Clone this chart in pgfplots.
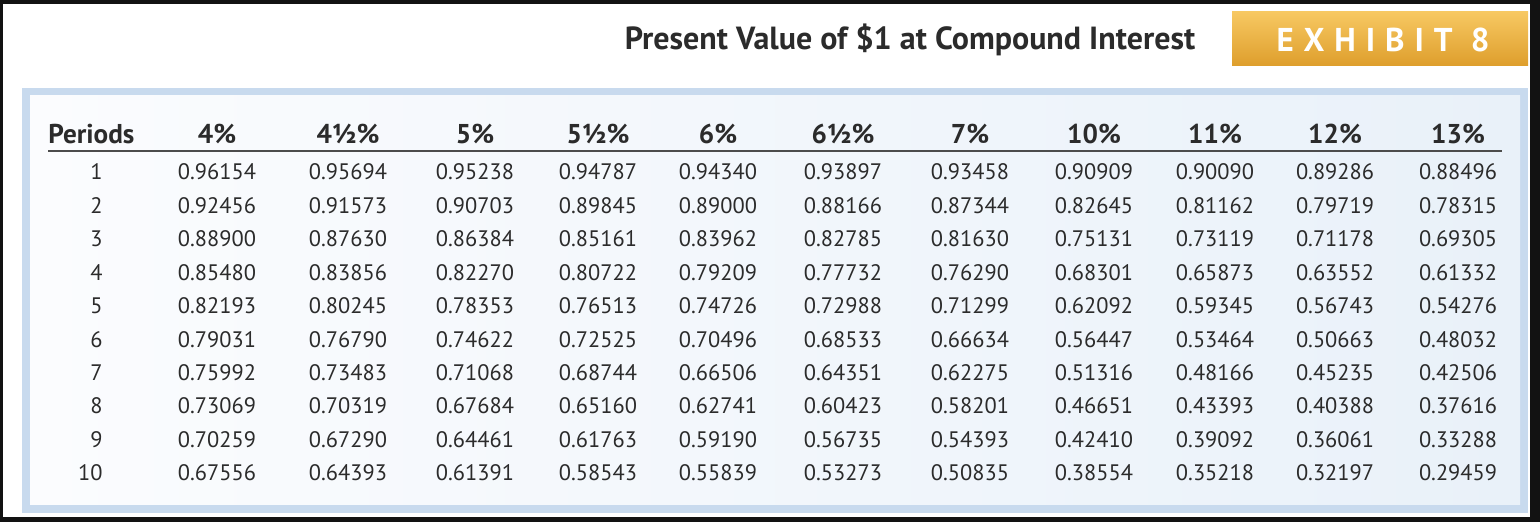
\documentclass[border=0pt]{standalone}
\usepackage{pgfplots}
\usepackage{pgfplotstable}
\pgfplotsset{compat=1.18}
\usepackage{fontspec}
\setmainfont{PT Sans}
\newfontfamily\exhfont[LetterSpace=30]{PT Sans}
\usetikzlibrary{shadings}

\definecolor{txt}{HTML}{2B2B2B}
\definecolor{frameblue}{HTML}{C8DAEE}
\definecolor{paneltop}{HTML}{FBFCFE}
\definecolor{panelright}{HTML}{E9F1F9}
\definecolor{orangetop}{HTML}{F7C862}
\definecolor{orangebot}{HTML}{DE9E2C}

% present value factors, periods 1-10
\pgfplotstableread{
n r4 r45 r5 r55 r6 r65 r7 r10 r11 r12 r13
1 0.96154 0.95694 0.95238 0.94787 0.94340 0.93897 0.93458 0.90909 0.90090 0.89286 0.88496
2 0.92456 0.91573 0.90703 0.89845 0.89000 0.88166 0.87344 0.82645 0.81162 0.79719 0.78315
3 0.88900 0.87630 0.86384 0.85161 0.83962 0.82785 0.81630 0.75131 0.73119 0.71178 0.69305
4 0.85480 0.83856 0.82270 0.80722 0.79209 0.77732 0.76290 0.68301 0.65873 0.63552 0.61332
5 0.82193 0.80245 0.78353 0.76513 0.74726 0.72988 0.71299 0.62092 0.59345 0.56743 0.54276
6 0.79031 0.76790 0.74622 0.72525 0.70496 0.68533 0.66634 0.56447 0.53464 0.50663 0.48032
7 0.75992 0.73483 0.71068 0.68744 0.66506 0.64351 0.62275 0.51316 0.48166 0.45235 0.42506
8 0.73069 0.70319 0.67684 0.65160 0.62741 0.60423 0.58201 0.46651 0.43393 0.40388 0.37616
9 0.70259 0.67290 0.64461 0.61763 0.59190 0.56735 0.54393 0.42410 0.39092 0.36061 0.33288
10 0.67556 0.64393 0.61391 0.58543 0.55839 0.53273 0.50835 0.38554 0.35218 0.32197 0.29459
}\pvtable

\begin{document}
\begin{tikzpicture}
\begin{axis}[
    scale only axis,
    width=770pt, height=261pt,
    xmin=0, xmax=1540, ymin=0, ymax=522,
    y dir=reverse,
    axis lines=none,
    clip=false,
    every node near coord/.append style={anchor=center, inner sep=0pt,
        font=\fontsize{11.2pt}{13pt}\selectfont, text=txt},
    cell/.style={draw=none, mark=none, nodes near coords, point meta=explicit symbolic},
]
% frame and panel
\fill[black!93] (axis cs:0,0) rectangle (axis cs:1540,522);
\fill[white] (axis cs:3,4) rectangle (axis cs:1530,517);
\fill[frameblue] (axis cs:22,88) rectangle (axis cs:1528,513);
\shade[left color=paneltop, right color=panelright] (axis cs:30,96) rectangle (axis cs:1520,505);
% exhibit tab
\shade[top color=orangetop, bottom color=orangebot] (axis cs:1232,12) rectangle (axis cs:1528,66);
\node[text=white, font=\exhfont\bfseries\fontsize{16.5pt}{18pt}\selectfont] at (axis cs:1383,40) {EXHIBIT 8};
\node[text=txt, font=\bfseries\fontsize{16pt}{18pt}\selectfont] at (axis cs:910,40) {Present Value of \$1 at Compound Interest};

% header row
\draw[black!70, line width=1.1pt] (axis cs:48,151) -- (axis cs:1502,151);
\begin{scope}[every node/.style={text=txt, font=\bfseries\fontsize{13.6pt}{15pt}\selectfont, anchor=center}]
\node[anchor=west, inner sep=0pt] at (axis cs:48,134) {Periods};
\node at (axis cs:217,134) {4\%};
\node at (axis cs:348,134) {4½\%};
\node at (axis cs:475,134) {5\%};
\node at (axis cs:598,134) {5½\%};
\node at (axis cs:718,134) {6\%};
\node at (axis cs:843,134) {6½\%};
\node at (axis cs:970,134) {7\%};
\node at (axis cs:1094,134) {10\%};
\node at (axis cs:1215,134) {11\%};
\node at (axis cs:1335,134) {12\%};
\node at (axis cs:1458,134) {13\%};
\end{scope}

% period numbers
\addplot[cell, every node near coord/.append style={anchor=east}] table[x expr=103, y expr=172+(\thisrow{n}-1)*33.45, meta=n] {\pvtable};
% factor columns
\addplot[cell] table[x expr=217, y expr=172+(\thisrow{n}-1)*33.45, meta=r4] {\pvtable};
\addplot[cell] table[x expr=348, y expr=172+(\thisrow{n}-1)*33.45, meta=r45] {\pvtable};
\addplot[cell] table[x expr=475, y expr=172+(\thisrow{n}-1)*33.45, meta=r5] {\pvtable};
\addplot[cell] table[x expr=598, y expr=172+(\thisrow{n}-1)*33.45, meta=r55] {\pvtable};
\addplot[cell] table[x expr=718, y expr=172+(\thisrow{n}-1)*33.45, meta=r6] {\pvtable};
\addplot[cell] table[x expr=843, y expr=172+(\thisrow{n}-1)*33.45, meta=r65] {\pvtable};
\addplot[cell] table[x expr=970, y expr=172+(\thisrow{n}-1)*33.45, meta=r7] {\pvtable};
\addplot[cell] table[x expr=1094, y expr=172+(\thisrow{n}-1)*33.45, meta=r10] {\pvtable};
\addplot[cell] table[x expr=1215, y expr=172+(\thisrow{n}-1)*33.45, meta=r11] {\pvtable};
\addplot[cell] table[x expr=1335, y expr=172+(\thisrow{n}-1)*33.45, meta=r12] {\pvtable};
\addplot[cell] table[x expr=1458, y expr=172+(\thisrow{n}-1)*33.45, meta=r13] {\pvtable};
\end{axis}
\end{tikzpicture}
\end{document}
